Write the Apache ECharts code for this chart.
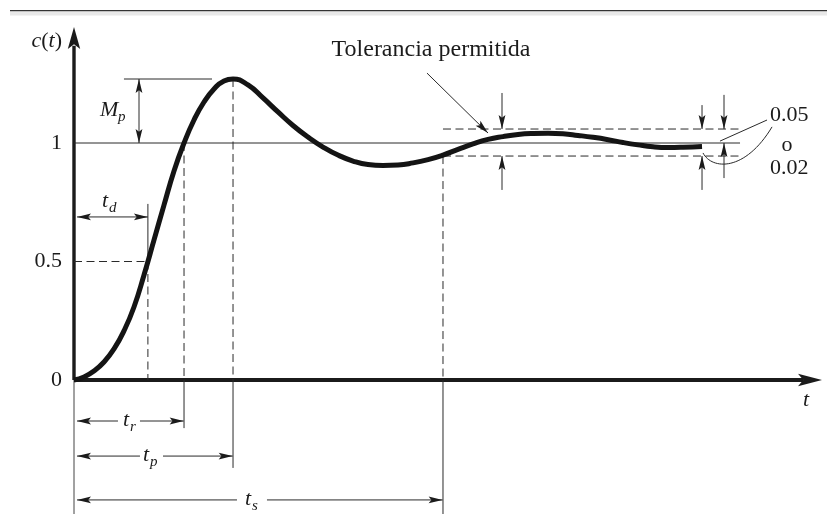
<!DOCTYPE html>
<html><head><meta charset="utf-8">
<script src="https://cdn.jsdelivr.net/npm/echarts@6/dist/echarts.min.js"></script>
<style>html,body{margin:0;padding:0;background:#fff}#chart{width:827px;height:514px}</style>
</head><body><div id="chart"></div>
<script>
// ---- data (time in arbitrary units, response c(t)) ----
const curveTime  = [0, 0.134, 0.267, 0.401, 0.535, 0.668, 0.802, 0.936, 1.070, 1.203, 1.337, 1.471, 1.604, 1.738, 1.872, 2.005, 2.126,
  2.326, 2.527, 2.727, 2.928, 3.128, 3.329, 3.529, 3.730, 3.930, 4.131, 4.332, 4.532, 4.733, 4.933,
  5.134, 5.334, 5.535, 5.735, 5.936, 6.136, 6.337, 6.537, 6.738, 6.938, 7.139, 7.340, 7.540, 7.741, 7.941, 8.142, 8.396];
const curveValue = [0, 0.013, 0.038, 0.076, 0.131, 0.207, 0.308, 0.443, 0.591, 0.738, 0.882, 1.000, 1.097, 1.173, 1.228, 1.262, 1.270,
  1.245, 1.190, 1.131, 1.074, 1.025, 0.983, 0.949, 0.924, 0.909, 0.905, 0.907, 0.916, 0.930, 0.949,
  0.973, 0.996, 1.015, 1.027, 1.036, 1.040, 1.041, 1.039, 1.032, 1.024, 1.014, 1.002, 0.992, 0.984, 0.981, 0.982, 0.985];
const yTickValues = [0, 0.5, 1];
const yTickLabels = ['0', '0.5', '1'];
const delayTime = 0.988, riseTime = 1.471, peakTime = 2.126, settlingTime = 4.933;
const halfValue = 0.5, finalValue = 1, peakValue = 1.270;
const toleranceBand = [0.945, 1.059];
const toleranceLabels = ['0.05', 'o', '0.02'];
const toleranceText = 'Tolerancia permitida';
const axisTitles = ['c', 't'];
const timeSymbols = ['d', 'r', 'p', 's'];

const FONT = '"Liberation Serif", "DejaVu Serif", serif';
const INK = '#1b1b1b';
const THIN = '#2a2a2a';

function renderAnnotations(params, api) {
  const P = (t, c) => api.coord([t, c]);
  const out = [];
  const seg = (t1, c1, t2, c2, o = {}) => {
    const a = P(t1, c1), b = P(t2, c2);
    out.push({ type: 'line', shape: { x1: a[0], y1: a[1], x2: b[0], y2: b[1] },
      style: { stroke: o.color || THIN, lineWidth: o.w || 1, lineDash: o.dash ? [8, 4.5] : null, fill: null } });
  };
  const head = (tt, tc, ft, fc, len = 14, half = 3.4, notch = 0.8) => {
    const p = P(tt, tc), q = P(ft, fc);
    let dx = p[0] - q[0], dy = p[1] - q[1];
    const L = Math.hypot(dx, dy); dx /= L; dy /= L;
    const nx = -dy, ny = dx;
    const bx = p[0] - dx * len, by = p[1] - dy * len;
    out.push({ type: 'polygon', shape: { points: [[p[0], p[1]], [bx + nx * half, by + ny * half],
      [p[0] - dx * len * notch, p[1] - dy * len * notch], [bx - nx * half, by - ny * half]] },
      style: { fill: INK } });
  };
  const arrow = (t1, c1, t2, c2, both) => { seg(t1, c1, t2, c2); head(t2, c2, t1, c1); if (both) head(t1, c1, t2, c2); };
  const gapArrow = (t1, t2, c, g1, g2) => {
    seg(t1, c, g1, c); seg(g2, c, t2, c);
    head(t1, c, t2, c); head(t2, c, t1, c);
  };
  const txt = (t, c, s, o = {}) => {
    const p = P(t, c);
    out.push({ type: 'text', x: p[0] + (o.dx || 0), y: p[1] + (o.dy || 0),
      style: { text: s, fontFamily: FONT, fontSize: o.size || 22, fontStyle: o.italic ? 'italic' : 'normal',
        fill: INK, align: o.align || 'left', verticalAlign: 'middle', textAlign: o.align || 'left', textVerticalAlign: 'middle',
        rich: o.rich } });
  };
  const sym = (t, c, main, sub, mainW) => {
    txt(t, c, main, { italic: true });
    txt(t, c, sub, { italic: true, size: 15, dx: mainW, dy: 7 });
  };

  // axes
  seg(0, 0, 0, 1.41, { w: 3.4, color: INK });
  head(0, 1.489, 0, 0, 22, 6.2, 0.78);
  seg(0, 0, 0, -0.57, { w: 1, color: '#444' });
  seg(0, 0, 9.75, 0, { w: 4, color: INK });
  head(10, 0, 0, 0, 24, 6.2, 0.78);

  // reference lines
  seg(0, finalValue, 8.904, finalValue);
  seg(settlingTime, toleranceBand[0], 8.904, toleranceBand[0], { dash: true });
  seg(settlingTime, toleranceBand[1], 8.904, toleranceBand[1], { dash: true });

  // delay time
  seg(0, halfValue, delayTime, halfValue, { dash: true });
  seg(delayTime, halfValue, delayTime, 0, { dash: true });
  seg(delayTime, halfValue, delayTime, 0.743);
  arrow(0.04, 0.688, delayTime, 0.688, true);
  sym(0.374, 0.755, 't', timeSymbols[0], 7);

  // rise time
  seg(riseTime, finalValue, riseTime, 0, { dash: true });
  seg(riseTime, 0, riseTime, -0.203);
  gapArrow(0.04, riseTime - 0.005, -0.173, 0.588, 0.882);
  sym(0.655, -0.169, 't', timeSymbols[1], 7);

  // peak time
  seg(peakTime, peakValue, peakTime, 0, { dash: true });
  seg(peakTime, 0, peakTime, -0.371);
  gapArrow(0.04, peakTime - 0.005, -0.321, 0.882, 1.19);
  sym(0.922, -0.316, 't', timeSymbols[2], 7);

  // settling time
  seg(settlingTime, toleranceBand[0], settlingTime, 0, { dash: true });
  seg(settlingTime, 0, settlingTime, -0.6);
  gapArrow(0.04, settlingTime - 0.005, -0.506, 2.179, 2.58);
  sym(2.286, -0.502, 't', timeSymbols[3], 7);

  // overshoot
  seg(0.668, peakValue, 1.845, peakValue);
  arrow(0.869, peakValue, 0.869, finalValue, true);
  sym(0.348, 1.139, 'M', 'p', 18);

  // tolerance annotation
  arrow(4.719, 1.295, 5.535, 1.042, false);
  txt(4.773, 1.392, toleranceText, { align: 'center', size: 24 });
  arrow(5.722, 1.211, 5.722, toleranceBand[1]);
  arrow(5.722, 0.802, 5.722, toleranceBand[0]);
  arrow(8.396, 1.160, 8.396, toleranceBand[1]);
  arrow(8.396, 0.802, 8.396, toleranceBand[0]);
  arrow(8.690, 1.203, 8.690, toleranceBand[1]);
  arrow(8.690, 0.852, 8.690, finalValue);
  seg(8.636, 1.008, 9.265, 1.097);
  const b0 = P(8.409, 0.958), b1 = P(8.529, 0.886), b2 = P(8.971, 0.878), b3 = P(9.332, 1.068);
  out.push({ type: 'bezierCurve', shape: { x1: b0[0], y1: b0[1], cpx1: b1[0], cpy1: b1[1], cpx2: b2[0], cpy2: b2[1], x2: b3[0], y2: b3[1] },
    style: { stroke: THIN, lineWidth: 1, fill: null } });
  txt(9.305, 1.118, toleranceLabels[0]);
  txt(9.532, 0.992, toleranceLabels[1], { align: 'center' });
  txt(9.305, 0.895, toleranceLabels[2]);

  // axis titles
  txt(-0.160, 1.430, '{i|' + axisTitles[0] + '}({i|' + axisTitles[1] + '})', { align: 'right',
    rich: { i: { fontStyle: 'italic', fontFamily: FONT, fontSize: 22, fill: INK } } });
  txt(9.746, -0.084, axisTitles[1], { italic: true });

  return { type: 'group', children: out };
}

const chart = echarts.init(document.getElementById('chart'), null, { renderer: 'canvas' });
chart.setOption({
  animation: false,
  backgroundColor: '#fff',
  grid: { left: 74, top: 24.5, width: 748, height: 474, containLabel: false },
  xAxis: { type: 'value', min: 0, max: 10, show: false },
  yAxis: {
    type: 'value', min: -0.5, max: 1.5, interval: 0.5,
    axisLine: { show: false }, axisTick: { show: false }, splitLine: { show: false },
    axisLabel: { margin: 12, fontFamily: FONT, fontSize: 22, color: INK,
      formatter: v => { const i = yTickValues.findIndex(x => Math.abs(x - v) < 1e-9); return i >= 0 ? yTickLabels[i] : ''; } }
  },
  graphic: [
    { type: 'rect', left: 10, top: 10, shape: { width: 817, height: 1.6 }, style: { fill: '#333' } },
    { type: 'rect', left: 10, top: 11.6, shape: { width: 817, height: 4 }, style: { fill: '#e8e8e8' } }
  ],
  series: [
    { type: 'custom', renderItem: renderAnnotations, data: [[0, 0]], clip: false, silent: true, z: 2 },
    { type: 'line', data: curveTime.map((t, i) => [t, curveValue[i]]), showSymbol: false, smooth: 0.5,
      clip: false, lineStyle: { width: 5, color: '#141414' }, z: 5, silent: true }
  ]
});
</script></body></html>
